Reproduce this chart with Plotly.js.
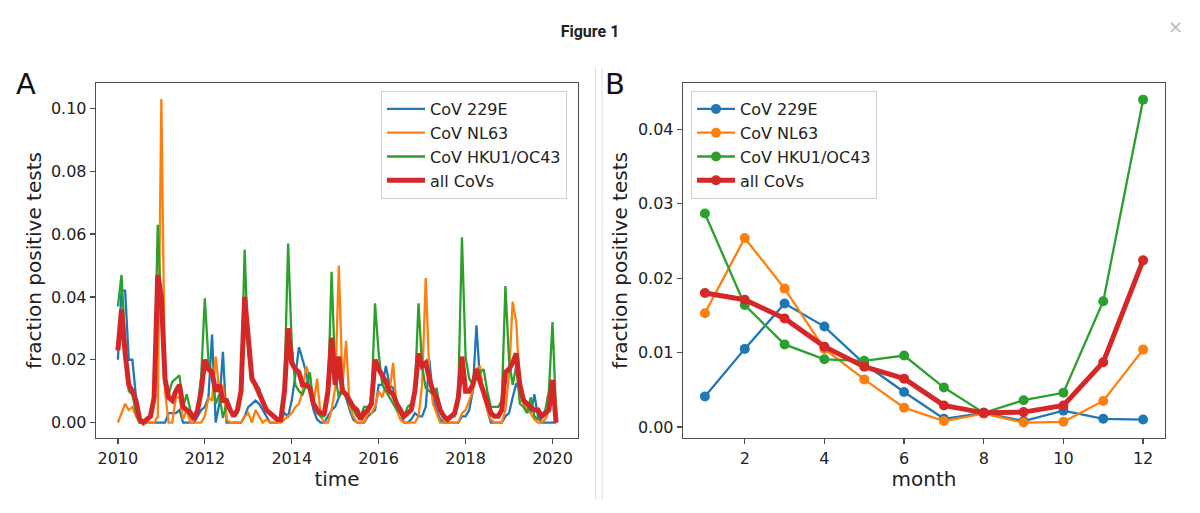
<!DOCTYPE html>
<html>
<head>
<meta charset="utf-8">
<script src="https://cdn.plot.ly/plotly-3.0.1.min.js"></script>
<style>
  html, body { margin: 0; padding: 0; background: #ffffff; }
  #chart { width: 1200px; height: 513px; }
</style>
</head>
<body>
<div id="chart"></div>
<script>
// ---------------- Panel A: monthly fraction positive tests, Jan 2010 .. Feb 2020 ----------------
const startYear = 2010;
const seriesNames = ['CoV 229E', 'CoV NL63', 'CoV HKU1/OC43', 'all CoVs'];
const seriesColors = ['#1f77b4', '#ff7f0e', '#2ca02c', '#d62728'];

const cov229E = [
  0.020, 0.042, 0.042, 0.020, 0.020, 0.008, 0.000, 0.000, 0.000, 0.000, 0.000, 0.000,
  0.000, 0.000, 0.003, 0.003, 0.003, 0.004, 0.000, 0.000, 0.000, 0.000, 0.002, 0.004,
  0.005, 0.008, 0.028, 0.000, 0.006, 0.0225, 0.000, 0.000, 0.000, 0.000, 0.000, 0.002,
  0.005, 0.006, 0.007, 0.006, 0.004, 0.002, 0.000, 0.000, 0.000, 0.001, 0.003, 0.002,
  0.007, 0.015, 0.024, 0.020, 0.016, 0.010, 0.004, 0.001, 0.000, 0.000, 0.002, 0.004,
  0.005, 0.008, 0.010, 0.008, 0.004, 0.001, 0.000, 0.000, 0.000, 0.002, 0.003, 0.004,
  0.012, 0.012, 0.018, 0.012, 0.011, 0.006, 0.003, 0.000, 0.000, 0.001, 0.003, 0.002,
  0.002, 0.005, 0.020, 0.008, 0.004, 0.001, 0.000, 0.000, 0.000, 0.000, 0.000, 0.002,
  0.002, 0.004, 0.010, 0.031, 0.013, 0.010, 0.004, 0.000, 0.000, 0.000, 0.000, 0.002,
  0.003, 0.008, 0.0125, 0.010, 0.008, 0.006, 0.003, 0.009, 0.002, 0.000, 0.000, 0.000,
  0.000, 0.000
];
const covNL63 = [
  0.000, 0.003, 0.006, 0.004, 0.005, 0.002, 0.000, 0.000, 0.000, 0.000, 0.000, 0.002,
  0.103, 0.010, 0.000, 0.000, 0.008, 0.008, 0.001, 0.004, 0.000, 0.000, 0.000, 0.000,
  0.002, 0.008, 0.007, 0.021, 0.010, 0.012, 0.001, 0.000, 0.000, 0.000, 0.000, 0.002,
  0.003, 0.000, 0.004, 0.002, 0.000, 0.001, 0.000, 0.000, 0.000, 0.000, 0.001, 0.002,
  0.003, 0.005, 0.006, 0.010, 0.018, 0.014, 0.006, 0.014, 0.002, 0.000, 0.000, 0.004,
  0.011, 0.050, 0.012, 0.026, 0.005, 0.002, 0.000, 0.000, 0.000, 0.003, 0.003, 0.005,
  0.010, 0.008, 0.012, 0.010, 0.019, 0.004, 0.001, 0.000, 0.000, 0.000, 0.000, 0.002,
  0.012, 0.046, 0.015, 0.006, 0.003, 0.000, 0.000, 0.000, 0.000, 0.000, 0.000, 0.003,
  0.004, 0.007, 0.010, 0.017, 0.018, 0.008, 0.004, 0.001, 0.000, 0.000, 0.000, 0.004,
  0.015, 0.0385, 0.032, 0.010, 0.006, 0.004, 0.003, 0.001, 0.000, 0.000, 0.001, 0.004,
  0.010, 0.000
];
const covHKU1OC43 = [
  0.037, 0.047, 0.025, 0.010, 0.009, 0.003, 0.000, 0.000, 0.001, 0.002, 0.008, 0.063,
  0.035, 0.012, 0.009, 0.013, 0.014, 0.015, 0.005, 0.009, 0.004, 0.002, 0.004, 0.015,
  0.0396, 0.020, 0.015, 0.006, 0.009, 0.0015, 0.006, 0.004, 0.003, 0.003, 0.010, 0.055,
  0.022, 0.013, 0.012, 0.011, 0.006, 0.004, 0.003, 0.002, 0.001, 0.001, 0.012, 0.057,
  0.025, 0.012, 0.010, 0.009, 0.012, 0.016, 0.006, 0.003, 0.002, 0.002, 0.008, 0.048,
  0.015, 0.008, 0.012, 0.008, 0.006, 0.004, 0.002, 0.002, 0.005, 0.005, 0.006, 0.038,
  0.022, 0.012, 0.010, 0.008, 0.006, 0.004, 0.003, 0.002, 0.005, 0.006, 0.010, 0.038,
  0.018, 0.011, 0.010, 0.009, 0.011, 0.004, 0.001, 0.001, 0.002, 0.002, 0.010, 0.059,
  0.021, 0.014, 0.012, 0.014, 0.016, 0.017, 0.010, 0.005, 0.005, 0.005, 0.007, 0.0435,
  0.020, 0.012, 0.018, 0.006, 0.005, 0.003, 0.008, 0.002, 0.001, 0.002, 0.004, 0.010,
  0.032, 0.003
];
const allCoVs = [
  0.023, 0.036, 0.022, 0.012, 0.010, 0.007, 0.001, 0.000, 0.001, 0.002, 0.008, 0.047,
  0.040, 0.014, 0.008, 0.007, 0.010, 0.012, 0.005, 0.004, 0.003, 0.001, 0.004, 0.010,
  0.020, 0.017, 0.016, 0.010, 0.012, 0.007, 0.007, 0.004, 0.002, 0.004, 0.010, 0.040,
  0.026, 0.014, 0.012, 0.009, 0.006, 0.004, 0.003, 0.002, 0.001, 0.001, 0.010, 0.030,
  0.019, 0.017, 0.016, 0.012, 0.012, 0.011, 0.006, 0.004, 0.003, 0.003, 0.010, 0.027,
  0.012, 0.021, 0.010, 0.009, 0.007, 0.005, 0.004, 0.001, 0.003, 0.004, 0.006, 0.020,
  0.017, 0.015, 0.013, 0.010, 0.009, 0.006, 0.004, 0.002, 0.003, 0.004, 0.010, 0.022,
  0.018, 0.019, 0.014, 0.010, 0.008, 0.004, 0.002, 0.001, 0.002, 0.003, 0.008, 0.021,
  0.010, 0.010, 0.012, 0.017, 0.013, 0.010, 0.007, 0.003, 0.002, 0.002, 0.004, 0.016,
  0.017, 0.019, 0.022, 0.012, 0.007, 0.006, 0.005, 0.004, 0.004, 0.002, 0.003, 0.004,
  0.0136, 0.000
];

// ---------------- Panel B: mean by calendar month ----------------
const months = [1, 2, 3, 4, 5, 6, 7, 8, 9, 10, 11, 12];
const month229E     = [0.0041, 0.0105, 0.0166, 0.0135, 0.0085, 0.0047, 0.0011, 0.0019, 0.0008, 0.0022, 0.0011, 0.0010];
const monthNL63     = [0.0153, 0.0254, 0.0186, 0.0105, 0.0064, 0.0026, 0.0008, 0.0018, 0.0006, 0.0007, 0.0035, 0.0104];
const monthHKU1OC43 = [0.0287, 0.0164, 0.0111, 0.0091, 0.0089, 0.0096, 0.0053, 0.0019, 0.0036, 0.0046, 0.0169, 0.0440];
const monthAll      = [0.0180, 0.0171, 0.0146, 0.0108, 0.0081, 0.0065, 0.0029, 0.0019, 0.0020, 0.0029, 0.0087, 0.0224];

const xTicksA = [2010, 2012, 2014, 2016, 2018, 2020];
const yTicksA = [0, 0.02, 0.04, 0.06, 0.08, 0.10];
const xTicksB = [2, 4, 6, 8, 10, 12];
const yTicksB = [0, 0.01, 0.02, 0.03, 0.04];

// time coordinate for each monthly sample
const time = cov229E.map((_, i) => startYear + i / 12);

const seriesA = [cov229E, covNL63, covHKU1OC43, allCoVs];
const seriesB = [month229E, monthNL63, monthHKU1OC43, monthAll];

const traces = [];
seriesA.forEach((ys, k) => {
  traces.push({
    type: 'scatter', mode: 'lines', x: time, y: ys,
    name: seriesNames[k], xaxis: 'x', yaxis: 'y', legend: 'legend',
    line: {color: seriesColors[k], width: k === 3 ? 5 : 2.3}
  });
});
seriesB.forEach((ys, k) => {
  traces.push({
    type: 'scatter', mode: 'lines+markers', x: months, y: ys,
    name: seriesNames[k], xaxis: 'x2', yaxis: 'y2', legend: 'legend2',
    line: {color: seriesColors[k], width: k === 3 ? 5 : 2.3},
    marker: {color: seriesColors[k], size: 10}
  });
});

const W = 1200, H = 513;
const px = v => v / W;
const py = v => 1 - v / H;

const axisCommon = {
  showline: true, mirror: true, linecolor: '#4d4d4d', linewidth: 1.3,
  ticks: 'outside', ticklen: 5, tickwidth: 1.3, tickcolor: '#4d4d4d',
  showgrid: false, zeroline: false,
  tickfont: {family: 'DejaVu Sans', size: 16, color: '#222'}
};

const layout = {
  width: W, height: H,
  margin: {l: 0, r: 0, t: 0, b: 0},
  paper_bgcolor: '#ffffff', plot_bgcolor: '#ffffff',
  font: {family: 'DejaVu Sans', color: '#222'},
  showlegend: true,
  title: {
    text: 'Figure 1', x: 590 / W, xanchor: 'center', xref: 'paper',
    y: py(31), yanchor: 'middle', yref: 'container',
    font: {family: 'Roboto', size: 16, weight: 'bold', color: '#222'}
  },
  xaxis: Object.assign({}, axisCommon, {
    domain: [px(96), px(578)], range: [2009.496, 2020.587], anchor: 'y',
    tickmode: 'array', tickvals: xTicksA, ticktext: xTicksA.map(String),
    title: {text: 'time', font: {family: 'DejaVu Sans', size: 20, color: '#222'}, standoff: 3}
  }),
  yaxis: Object.assign({}, axisCommon, {
    domain: [py(438), py(83)], range: [-0.0049, 0.1081], anchor: 'x',
    tickmode: 'array', tickvals: yTicksA, ticktext: yTicksA.map(v => v.toFixed(2)),
    title: {text: 'fraction positive tests', font: {family: 'DejaVu Sans', size: 20, color: '#222'}, standoff: 4}
  }),
  xaxis2: Object.assign({}, axisCommon, {
    domain: [px(683), px(1165)], range: [0.45, 12.55], anchor: 'y2',
    tickmode: 'array', tickvals: xTicksB, ticktext: xTicksB.map(String),
    title: {text: 'month', font: {family: 'DejaVu Sans', size: 20, color: '#222'}, standoff: 3}
  }),
  yaxis2: Object.assign({}, axisCommon, {
    domain: [py(438), py(83)], range: [-0.00148, 0.04624], anchor: 'x2',
    tickmode: 'array', tickvals: yTicksB, ticktext: yTicksB.map(v => v.toFixed(2)),
    title: {text: 'fraction positive tests', font: {family: 'DejaVu Sans', size: 20, color: '#222'}, standoff: 5}
  }),
  legend: {
    x: px(381), y: py(91), xanchor: 'left', yanchor: 'top', xref: 'paper', yref: 'paper',
    bgcolor: 'rgba(255,255,255,0.9)', bordercolor: '#d0d0d0', borderwidth: 1,
    font: {family: 'DejaVu Sans', size: 16, color: '#222'}, itemwidth: 38, tracegroupgap: 0
  },
  legend2: {
    x: px(691), y: py(91), xanchor: 'left', yanchor: 'top', xref: 'paper', yref: 'paper',
    bgcolor: 'rgba(255,255,255,0.9)', bordercolor: '#d0d0d0', borderwidth: 1,
    font: {family: 'DejaVu Sans', size: 16, color: '#222'}, itemwidth: 38, tracegroupgap: 0
  },
  annotations: [
    {text: 'A', x: px(26), y: py(84), xref: 'paper', yref: 'paper', xanchor: 'center', yanchor: 'middle',
     showarrow: false, font: {family: 'DejaVu Sans', size: 29, color: '#111'}},
    {text: 'B', x: px(615), y: py(84), xref: 'paper', yref: 'paper', xanchor: 'center', yanchor: 'middle',
     showarrow: false, font: {family: 'DejaVu Sans', size: 29, color: '#111'}},
    {text: '×', x: px(1175), y: py(27), xref: 'paper', yref: 'paper', xanchor: 'center', yanchor: 'middle',
     showarrow: false, font: {family: 'DejaVu Sans', size: 18, color: '#bbbbbb'}}
  ],
  shapes: [
    {type: 'line', xref: 'paper', yref: 'paper', x0: px(595.5), x1: px(595.5), y0: py(67), y1: py(500),
     line: {color: '#dddddd', width: 1}},
    {type: 'line', xref: 'paper', yref: 'paper', x0: px(602), x1: px(602), y0: py(67), y1: py(500),
     line: {color: '#dddddd', width: 1}}
  ]
};

Plotly.newPlot('chart', traces, layout, {displayModeBar: false, staticPlot: true});
</script>
</body>
</html>
